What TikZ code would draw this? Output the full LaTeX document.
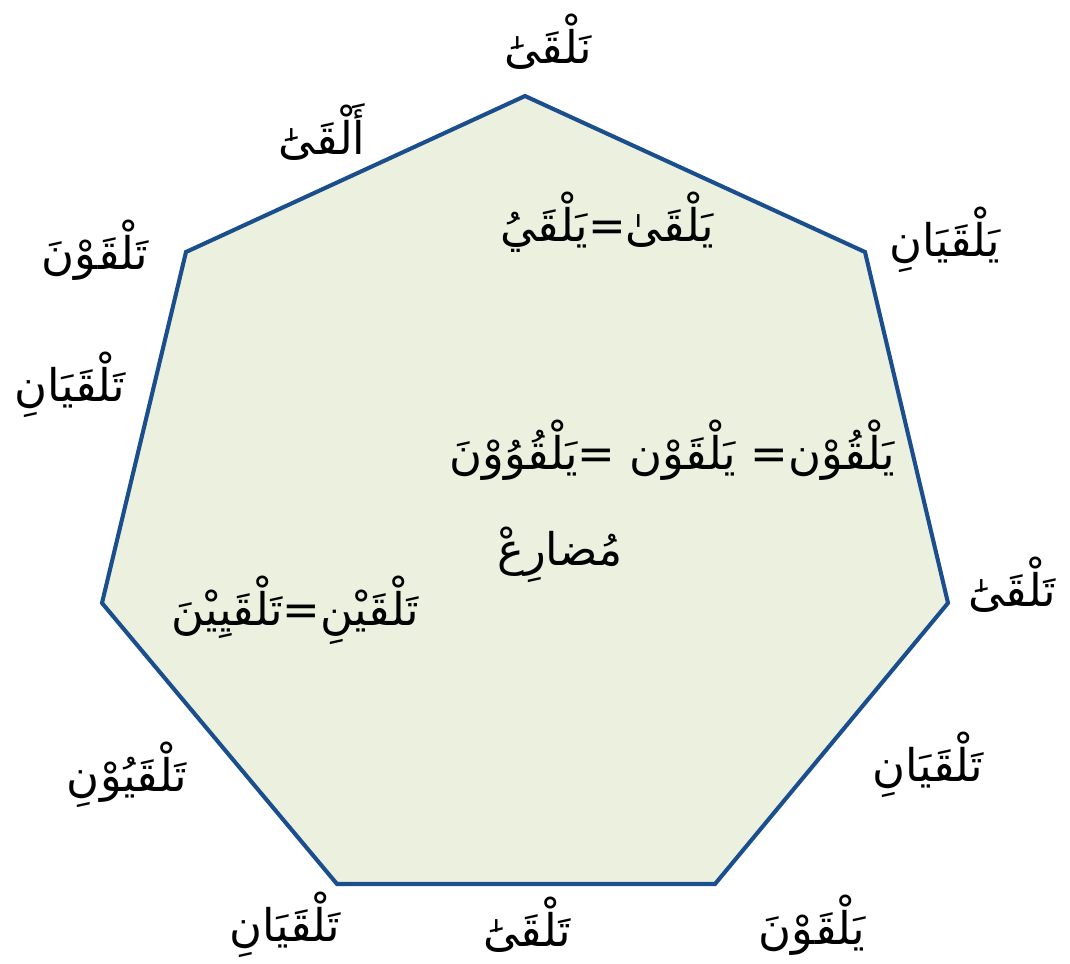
\documentclass[tikz,border=0pt]{standalone}
\usepackage{fontspec}
\usepackage{tikz}
\usetikzlibrary{calc}
\TeXXeTstate=1
\newfontfamily\arabicfont[Script=Arabic]{DejaVu Sans}
\newcommand{\artxt}[1]{{\arabicfont\beginR #1\endR}}
\definecolor{hepfill}{HTML}{EBF1DE}
\definecolor{hepline}{HTML}{1A4E8D}

\begin{document}
\begin{tikzpicture}[x=0.025cm,y=-0.025cm,
  lbl/.style={inner sep=1pt,font=\fontsize{32}{38}\selectfont}]
  \useasboundingbox (0,0) rectangle (1070,963);
  % heptagon corners
  \coordinate (v1) at (525,96);
  \coordinate (v2) at (865,252);
  \coordinate (v3) at (948,603);
  \coordinate (v4) at (715,884);
  \coordinate (v5) at (337,884);
  \coordinate (v6) at (102,603);
  \coordinate (v7) at (186,252);
  \draw[hepline,line width=2.9pt,fill=hepfill,line join=miter]
    (v1) -- (v2) -- (v3) -- (v4) -- (v5) -- (v6) -- (v7) -- cycle;
  % forms round the outside
  \node[lbl] (top) at (548,42) {\artxt{نَلْقَىَٰ}};
  \node[lbl] (ulA) at (322,132) {\artxt{أَلْقَىَٰ}};
  \node[lbl] (ulB) at (95,250) {\artxt{تَلْقَوْنَ}};
  \node[lbl] (lA) at (70,385) {\artxt{تَلْقَيَانِ}};
  \node[lbl] (lB) at (127,775) {\artxt{تَلْقَيُوْنِ}};
  \node[lbl] (bA) at (285,925) {\artxt{تَلْقَيَانِ}};
  \node[lbl] (bB) at (527,925) {\artxt{تَلْقَىَٰ}};
  \node[lbl] (bC) at (812,925) {\artxt{يَلْقَوْنَ}};
  \node[lbl] (rA) at (928,765) {\artxt{تَلْقَيَانِ}};
  \node[lbl] (rB) at (1012,585) {\artxt{تَلْقَىَٰ}};
  \node[lbl] (urA) at (945,240) {\artxt{يَلْقَيَانِ}};
  % inside
  \node[lbl] (inA) at (607,222) {\artxt{يَلْقَىٰ=يَلْقَيُ}};
  \node[lbl] (inB) at (672,450) {\artxt{يَلْقُوْن= يَلْقَوْن =يَلْقُوُوْنَ}};
  \node[lbl] (mid) at (560,555) {\artxt{مُضارِعْ}};
  \node[lbl] (inC) at (295,610) {\artxt{تَلْقَيْنِ=تَلْقَيِيْنَ}};
\end{tikzpicture}
\end{document}
